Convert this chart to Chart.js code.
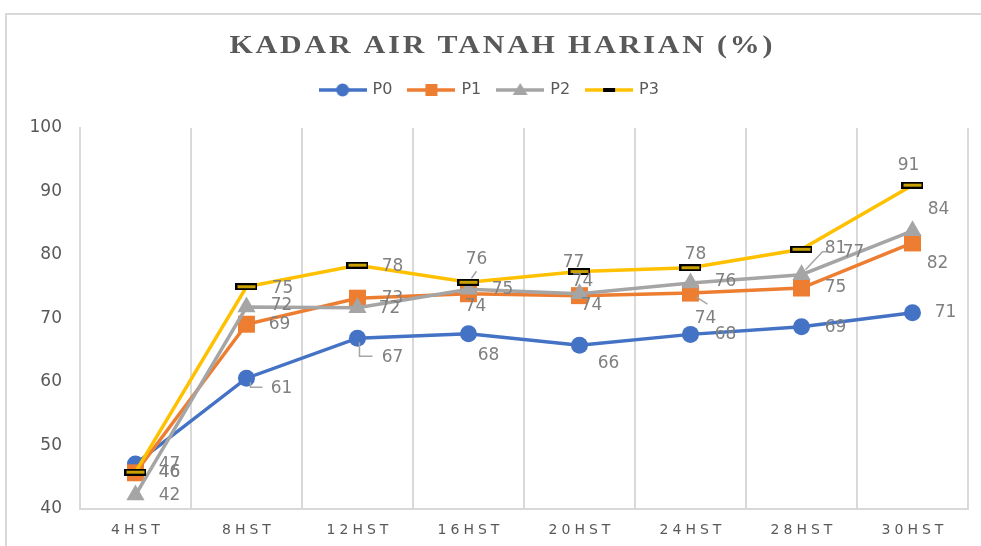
<!DOCTYPE html>
<html>
<head>
<meta charset="utf-8">
<script src="https://cdn.jsdelivr.net/npm/chart.js@4.4.0/dist/chart.umd.min.js"></script>
<style>
html, body { margin: 0; padding: 0; background: #fff; overflow: hidden; }
#wrap { width: 981px; height: 546px; }
</style>
</head>
<body>
<div id="wrap"><canvas id="kadar" width="981" height="546"></canvas></div>
<script>
var judul = "KADAR AIR TANAH HARIAN (%)";
var hari = ["4HST", "8HST", "12HST", "16HST", "20HST", "24HST", "28HST", "30HST"];
var p0 = [47.1, 60.6, 66.9, 67.6, 65.8, 67.5, 68.7, 70.9];
var p1 = [45.7, 69.1, 73.2, 73.9, 73.6, 74.0, 74.8, 81.9];
var p2 = [42.2, 71.8, 71.7, 74.6, 73.9, 75.6, 76.9, 83.8];
var p3 = [45.8, 75.0, 78.4, 75.7, 77.4, 78.0, 80.9, 91.0];
var yTicks = [40, 50, 60, 70, 80, 90, 100];

// posisi label tiap titik [dx, dy] dari titiknya
var geser = [
    [[34, 1], [35, 10], [35, 19], [20, 22], [29, 18], [35, 0], [34, 1], [33, 0]],
    [[34, 0], [33, 0], [35, 0], [7, 13], [12, 10], [15, 25], [34, 0], [25, 21]],
    [[34, 1], [35, -1], [32, 1], [34, 0], [3, -12], [35, -1], [52, -22], [26, -21]],
    [[34, 0], [36, 2], [35, 1], [8, -23], [-6, -9], [5, -13], [34, -1], [-4, -20]]
];
// garis penunjuk label yang digeser
var garis = [
    { ds: 0, i: 1, pts: [[4, 4], [4, 9], [16, 9]] },
    { ds: 0, i: 2, pts: [[2, 4], [2, 18], [15, 18]] },
    { ds: 1, i: 5, pts: [[6, 4], [17, 11]] },
    { ds: 2, i: 6, pts: [[4, -5], [21, -23], [26, -23]] },
    { ds: 3, i: 3, pts: [[3, -4], [8, -11]] }
];

function markP3() {
    var c = document.createElement('canvas');
    c.width = 22; c.height = 7;
    var g = c.getContext('2d');
    g.fillStyle = '#000';
    g.fillRect(0, 0, 22, 7);
    g.fillStyle = '#c9a100';
    g.fillRect(2, 2, 18, 3);
    return c;
}

function ikon(warna, bentuk) {
    var c = document.createElement('canvas');
    c.width = 48; c.height = 16;
    var g = c.getContext('2d');
    g.strokeStyle = warna;
    g.lineWidth = 3.5;
    g.beginPath(); g.moveTo(0, 8); g.lineTo(48, 8); g.stroke();
    g.fillStyle = warna;
    if (bentuk == 'circle') {
        g.beginPath(); g.arc(24, 8, 6.5, 0, Math.PI * 2); g.fill();
    } else if (bentuk == 'rect') {
        g.fillRect(18, 2, 12, 12);
    } else if (bentuk == 'triangle') {
        g.beginPath(); g.moveTo(24, 1); g.lineTo(31.5, 13); g.lineTo(16.5, 13); g.closePath(); g.fill();
    } else {
        g.fillStyle = '#000';
        g.fillRect(18, 6, 12, 4);
    }
    return c;
}

var ikonLegend = [ikon('#4472C4', 'circle'), ikon('#ED7D31', 'rect'), ikon('#A5A5A5', 'triangle'), ikon('#FFC000', 'bar')];

var hiasan = {
    id: 'hiasan',
    beforeLayout: function (chart) {
        if (chart.legend && !chart.legend._tambah) {
            var fit = chart.legend.fit;
            chart.legend.fit = function () { fit.call(this); this.height += 20; };
            chart.legend._tambah = true;
        }
    },
    beforeDraw: function (chart) {
        var ctx = chart.ctx;
        ctx.save();
        ctx.fillStyle = '#fff';
        ctx.fillRect(0, 0, chart.width, chart.height);
        ctx.strokeStyle = '#d9d9d9';
        ctx.lineWidth = 2;
        ctx.strokeRect(6, 14, chart.width + 20, chart.height + 20);
        ctx.restore();
    },
    afterDraw: function (chart) {
        var ctx = chart.ctx;
        ctx.save();
        ctx.fillStyle = '#595959';
        ctx.textAlign = 'center';
        ctx.textBaseline = 'alphabetic';
        // judul agak melebar seperti aslinya
        ctx.save();
        ctx.translate(501, 53);
        ctx.scale(1.15, 1);
        ctx.font = 'bold 26px "Liberation Serif"';
        ctx.letterSpacing = '2.5px';
        ctx.fillText(judul, 1.25, 0);
        ctx.restore();
        ctx.font = '14px "DejaVu Sans"';
        ctx.letterSpacing = '4px';
        ctx.textBaseline = 'middle';
        var sx = chart.scales.x;
        hari.forEach(function (h, i) {
            ctx.fillText(h, sx.getPixelForTick(i) + 2, sx.bottom + 21);
        });
        ctx.restore();
    }
};

var labelNilai = {
    id: 'labelNilai',
    afterDatasetsDraw: function (chart) {
        var ctx = chart.ctx;
        ctx.save();
        ctx.strokeStyle = '#a6a6a6';
        ctx.lineWidth = 1.5;
        garis.forEach(function (g) {
            var el = chart.getDatasetMeta(g.ds).data[g.i];
            ctx.beginPath();
            g.pts.forEach(function (p, k) {
                if (k === 0) ctx.moveTo(el.x + p[0], el.y + p[1]);
                else ctx.lineTo(el.x + p[0], el.y + p[1]);
            });
            ctx.stroke();
        });
        ctx.font = '17px "DejaVu Sans"';
        ctx.fillStyle = '#808080';
        ctx.textAlign = 'center';
        ctx.textBaseline = 'middle';
        chart.data.datasets.forEach(function (ds, d) {
            chart.getDatasetMeta(d).data.forEach(function (el, i) {
                var s = geser[d][i];
                ctx.fillText(Math.round(ds.data[i]), el.x + s[0], el.y + s[1]);
            });
        });
        ctx.restore();
    }
};

var grafik = new Chart(document.getElementById('kadar'), {
    type: 'line',
    data: {
        labels: hari,
        datasets: [{
            label: 'P0', data: p0,
            borderColor: '#4472C4', backgroundColor: '#4472C4', borderWidth: 3.5,
            pointStyle: 'circle', pointRadius: 8.5, pointBorderWidth: 0, order: 3
        }, {
            label: 'P1', data: p1,
            borderColor: '#ED7D31', backgroundColor: '#ED7D31', borderWidth: 3.5,
            pointStyle: 'rect', pointRadius: 12, pointBorderWidth: 0, order: 2
        }, {
            label: 'P2', data: p2,
            borderColor: '#A5A5A5', backgroundColor: '#A5A5A5', borderWidth: 3.5,
            pointStyle: 'triangle', pointRadius: 10.5, pointBorderWidth: 0, order: 1
        }, {
            label: 'P3', data: p3,
            borderColor: '#FFC000', backgroundColor: '#FFC000', borderWidth: 3.5,
            pointStyle: markP3(), pointRadius: 8, order: 0
        }]
    },
    options: {
        responsive: false,
        animation: false,
        layout: { padding: { top: 65, left: 11.5, right: 13, bottom: 37 } },
        plugins: {
            legend: {
                position: 'top',
                labels: {
                    usePointStyle: true,
                    pointStyleWidth: 44,
                    padding: 17,
                    color: '#595959',
                    font: { family: 'DejaVu Sans', size: 16 },
                    sort: function (a, b) { return a.datasetIndex - b.datasetIndex; },
                    generateLabels: function (chart) {
                        var items = Chart.defaults.plugins.legend.labels.generateLabels(chart);
                        items.forEach(function (it) { it.pointStyle = ikonLegend[it.datasetIndex]; it.lineWidth = 0; });
                        return items;
                    }
                }
            },
            tooltip: { enabled: false }
        },
        scales: {
            x: {
                offset: true,
                grid: { offset: true, color: '#d9d9d9', lineWidth: 2, drawTicks: false },
                border: { color: '#d9d9d9', width: 2 },
                ticks: { display: false }
            },
            y: {
                min: yTicks[0],
                max: yTicks[yTicks.length - 1],
                ticks: { stepSize: 10, padding: 18, color: '#595959', font: { family: 'DejaVu Sans', size: 17 } },
                grid: { display: false, drawTicks: false },
                border: { color: '#d9d9d9', width: 2 }
            }
        }
    },
    plugins: [hiasan, labelNilai]
});
</script>
</body>
</html>
